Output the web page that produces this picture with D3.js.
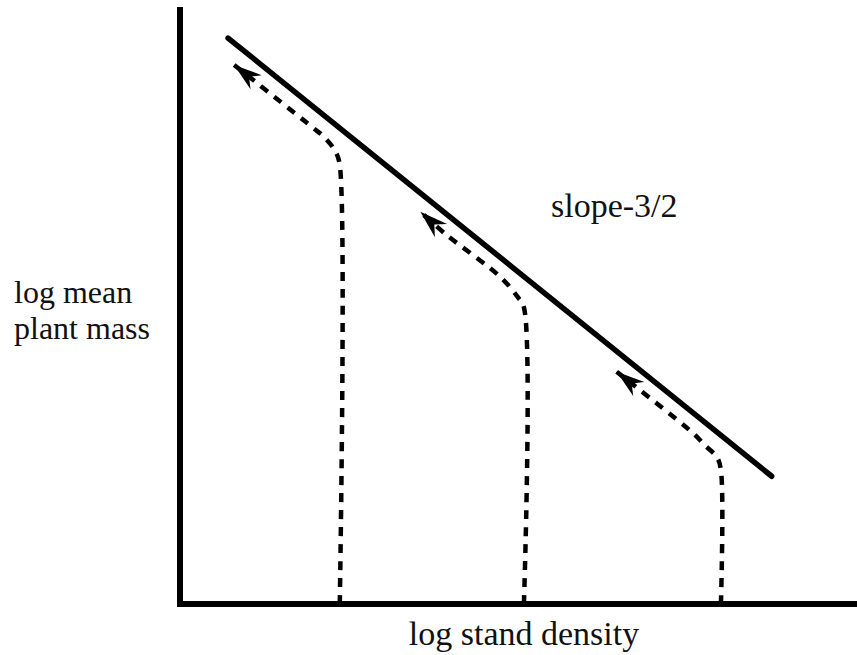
<!DOCTYPE html>
<html lang="en">
<head>
	<meta charset="utf-8">
	<title>Self-thinning line</title>
	<script type="text/javascript" src="https://cdn.jsdelivr.net/npm/d3@7"></script>
	<style type="text/css">
		body {
			margin: 0;
			background: #fff;
		}
	</style>
</head>
<body>
	<div id="viz"></div>
	<script type="text/javascript">
	  const CANVAS_WIDTH = 857;
	  const CANVAS_HEIGHT = 655;
	  const FONT = '"Liberation Serif", "Times New Roman", Times, serif';

	  // axis extent, arbitrary log units
	  var xDomain = [0, 100];
	  var yDomain = [0, 100];

	  // the -3/2 thinning line: [log density, log mass]
	  var thinningLine = [[7.1, 94.8], [87.4, 21.4]];

	  // three stands sown at different densities: grow, then follow the line
	  var standLow = [[23.6, 0], [23.6, 73.5], [23.0, 75.7], [21.4, 78.1], [19.5, 79.9], [8.0, 90.3]];
	  var standMid = [[50.8, 0], [50.8, 49.7], [49.9, 51.4], [47.3, 54.8], [39.4, 61.8], [35.5, 65.7]];
	  var standHigh = [[79.9, 0], [79.9, 22.4], [79.3, 24.6], [77.5, 26.6], [75.8, 28.6], [64.5, 38.9]];
	  var stands = [standLow, standMid, standHigh];

	  var yLabel = ['log mean', 'plant mass'];
	  var xLabel = 'log stand density';
	  var slopeLabel = 'slope-3/2';

	  var x = d3.scaleLinear().domain(xDomain).range([180, 857]);
	  var y = d3.scaleLinear().domain(yDomain).range([604, 7]);

	  var svg = d3.select('#viz')
	    .append('svg')
	    .attr('width', CANVAS_WIDTH)
	    .attr('height', CANVAS_HEIGHT);

	  // swept arrow head
	  svg.append('defs').append('marker')
	    .attr('id', 'head')
	    .attr('markerUnits', 'userSpaceOnUse')
	    .attr('viewBox', '-30 -10 32 20')
	    .attr('refX', 0)
	    .attr('refY', 0)
	    .attr('markerWidth', 32)
	    .attr('markerHeight', 20)
	    .attr('orient', 'auto')
	    .append('path')
	    .attr('d', 'M0,0 L-28,-9 L-19,0 L-28,9 Z')
	    .attr('fill', '#000');

	  var line = d3.line()
	    .x(function(d) { return x(d[0]); })
	    .y(function(d) { return y(d[1]); });

	  var curved = d3.line()
	    .x(function(d) { return x(d[0]); })
	    .y(function(d) { return y(d[1]); })
	    .curve(d3.curveCatmullRom.alpha(0.5));

	  // dashed trajectories
	  svg.selectAll('path.stand')
	    .data(stands)
	    .enter()
	    .append('path')
	    .attr('class', 'stand')
	    .attr('d', curved)
	    .attr('fill', 'none')
	    .attr('stroke', '#000')
	    .attr('stroke-width', 4.5)
	    .attr('stroke-dasharray', '9,8')
	    .attr('marker-end', 'url(#head)');

	  // axes
	  svg.append('path')
	    .attr('d', line([[xDomain[0], yDomain[1]], [xDomain[0], yDomain[0]], [xDomain[1], yDomain[0]]]))
	    .attr('fill', 'none')
	    .attr('stroke', '#000')
	    .attr('stroke-width', 6)
	    .attr('stroke-linejoin', 'miter');

	  // thinning line
	  svg.append('path')
	    .attr('d', line(thinningLine))
	    .attr('fill', 'none')
	    .attr('stroke', '#000')
	    .attr('stroke-width', 5.5)
	    .attr('stroke-linecap', 'round');

	  svg.append('text')
	    .attr('x', 551)
	    .attr('y', 217)
	    .style('font-family', FONT)
	    .style('font-size', '34px')
	    .attr('fill', '#111')
	    .text(slopeLabel);

	  svg.append('text')
	    .attr('x', 524)
	    .attr('y', 645)
	    .style('font-family', FONT)
	    .style('font-size', '34px')
	    .attr('fill', '#111')
	    .attr('text-anchor', 'middle')
	    .text(xLabel);

	  // two-line y label
	  svg.selectAll('text.ylab')
	    .data(yLabel)
	    .enter()
	    .append('text')
	    .attr('class', 'ylab')
	    .attr('x', 14)
	    .attr('y', function(d, i) { return 303 + i * 36; })
	    .style('font-family', FONT)
	    .style('font-size', '32px')
	    .attr('fill', '#111')
	    .text(function(d) { return d; });
	</script>
</body>
</html>
